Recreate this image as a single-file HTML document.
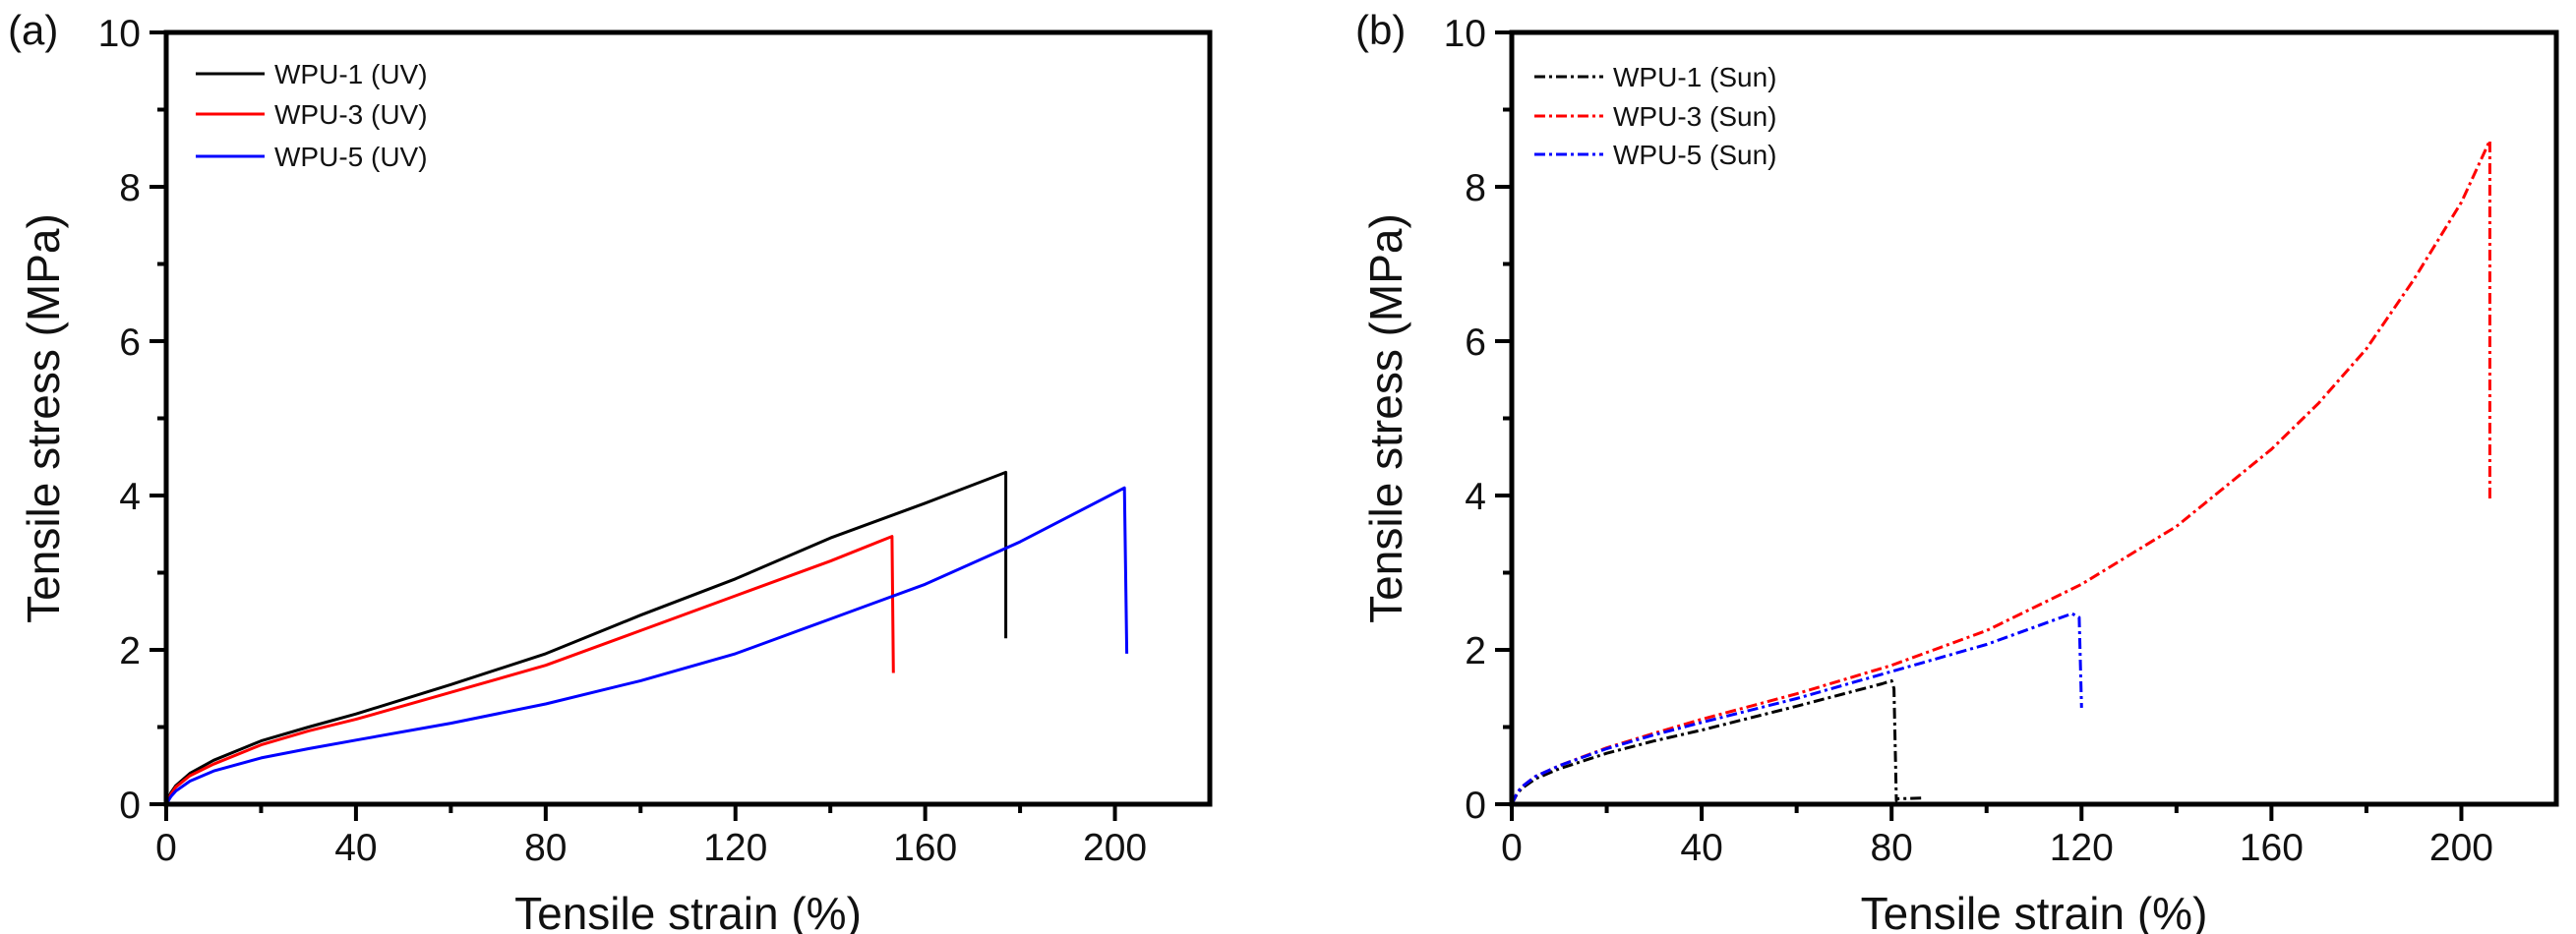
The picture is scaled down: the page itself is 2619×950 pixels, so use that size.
<!DOCTYPE html>
<html><head><meta charset="utf-8"><style>
html,body{margin:0;padding:0;background:#fff;}
svg{display:block;font-family:"Liberation Sans",Arial,sans-serif;}
</style></head><body>
<svg id="chart" width="2619" height="950" viewBox="0 0 2619 950" xmlns="http://www.w3.org/2000/svg"></svg>
<script>
// ---- data ----
const xTicks = [0,40,80,120,160,200];
const yTicks = [0,2,4,6,8,10];
const aLabels = ["WPU-1 (UV)","WPU-3 (UV)","WPU-5 (UV)"];
const bLabels = ["WPU-1 (Sun)","WPU-3 (Sun)","WPU-5 (Sun)"];
const colors = ["#000000","#ff0000","#0000ff"];
const a1x = [0,1,2,5,10,20,30,40,60,80,100,120,140,160,177,177];
const a1y = [0,0.15,0.24,0.4,0.57,0.82,1.0,1.17,1.55,1.95,2.45,2.92,3.45,3.9,4.3,2.15];
const a3x = [0,1,2,5,10,20,30,40,60,80,100,120,140,153,153.3];
const a3y = [0,0.13,0.22,0.37,0.52,0.77,0.95,1.1,1.45,1.8,2.25,2.7,3.15,3.47,1.7];
const a5x = [0,1,2,5,10,20,30,40,60,80,100,120,140,160,180,202,202.5];
const a5y = [0,0.1,0.17,0.3,0.43,0.6,0.72,0.83,1.05,1.3,1.6,1.95,2.4,2.85,3.4,4.1,1.95];
const b1x = [0,1,2,5,10,20,30,40,60,78,80,80.5,81,81,87];
const b1y = [0,0.12,0.2,0.33,0.46,0.66,0.82,0.96,1.27,1.56,1.6,1.5,0.05,0.07,0.08];
const b3x = [0,1,2,5,10,20,30,40,60,80,100,120,140,160,170,180,190,200,206,206];
const b3y = [0,0.13,0.22,0.36,0.5,0.73,0.92,1.1,1.43,1.8,2.25,2.85,3.6,4.6,5.2,5.9,6.8,7.8,8.6,3.95];
const b5x = [0,1,2,5,10,20,30,40,60,80,100,118,119.5,120];
const b5y = [0,0.13,0.22,0.36,0.5,0.72,0.9,1.06,1.37,1.72,2.07,2.47,2.42,1.25];

const NS="http://www.w3.org/2000/svg";
const svg=document.getElementById('chart');
function mk(tag,attrs,parent){const e=document.createElementNS(NS,tag);for(const k in attrs)e.setAttribute(k,attrs[k]);(parent||svg).appendChild(e);return e;}

function panel(p){
  const g=mk('g',{});
  
  
  const X0=p.left, X1=p.right, Y0=818, Y1=33;
  const sx=v=>X0+(v-0)/220*(X1-X0);
  const sy=v=>Y0-(v-0)/10*(Y0-Y1);
  for(let v=20;v<220;v+=40){const t=mk('line',{x1:sx(v),x2:sx(v),y1:Y0,y2:Y0+9,stroke:'#000','stroke-width':4},g);}
  for(let v=1;v<10;v+=2){const t=mk('line',{x1:X0-9,x2:X0,y1:sy(v),y2:sy(v),stroke:'#000','stroke-width':4},g);}
  xTicks.forEach(v=>{
    const t=mk('line',{x1:sx(v),x2:sx(v),y1:Y0,y2:Y0+17,stroke:'#000','stroke-width':4},g);
    
    const l=mk('text',{x:sx(v),y:875,'text-anchor':'middle','font-size':39,fill:'#111'},g);l.textContent=v;
    
  });
  yTicks.forEach(v=>{
    const t=mk('line',{x1:X0-17,x2:X0,y1:sy(v),y2:sy(v),stroke:'#000','stroke-width':4},g);
    
    const l=mk('text',{x:X0-26,y:sy(v)+14,'text-anchor':'end','font-size':39,fill:'#111'},g);l.textContent=v;
    
  });
  p.series.forEach((s,i)=>{
    const pts=s.x.map((v,j)=>sx(v).toFixed(1)+','+sy(s.y[j]).toFixed(1)).join(' ');
    const attrs={points:pts,fill:'none',stroke:colors[i],'stroke-width':3,'stroke-linejoin':'round'};
    if(p.dash)attrs['stroke-dasharray']='11 4 3 4';
    const pl=mk('polyline',attrs,g);
    
  });
  const fr=mk('rect',{x:X0,y:Y1,width:X1-X0,height:Y0-Y1,fill:'none',stroke:'#000','stroke-width':5},g);
  
  p.labels.forEach((lab,i)=>{
    const ly=p.legY[i];
    const ll=mk('line',{x1:X0+p.legDx,x2:X0+p.legDx+70,y1:ly,y2:ly,stroke:colors[i],'stroke-width':3},g);
    if(p.dash)ll.setAttribute('stroke-dasharray','11 4 3 4');
    
    const lt=mk('text',{x:X0+p.legDx+80,y:ly+10,'font-size':28,fill:'#111'},g);lt.textContent=lab;
    
  });
  const xt=mk('text',{x:(X0+X1)/2,y:945,'text-anchor':'middle','font-size':46,fill:'#111'},g);xt.textContent='Tensile strain (%)';
  
  const yt=mk('text',{x:0,y:0,'text-anchor':'middle','font-size':46,fill:'#111',transform:`translate(${p.ytx},${(Y0+Y1)/2}) rotate(-90)`},g);yt.textContent='Tensile stress (MPa)';
  
  const pl=mk('text',{x:p.plx,y:45,'font-size':42,fill:'#111'},g);pl.textContent=p.tag;
  
}
panel({name:'panel-a',left:169,right:1230,dash:false,labels:aLabels,legDx:30,legY:[75,116,159],ytx:60,plx:8,tag:'(a)',
  series:[{name:'wpu1-uv-line',x:a1x,y:a1y},{name:'wpu3-uv-line',x:a3x,y:a3y},{name:'wpu5-uv-line',x:a5x,y:a5y}]});
panel({name:'panel-b',left:1537,right:2599,dash:true,labels:bLabels,legDx:23,legY:[78,118,157],ytx:1425,plx:1378,tag:'(b)',
  series:[{name:'wpu1-sun-line',x:b1x,y:b1y},{name:'wpu3-sun-line',x:b3x,y:b3y},{name:'wpu5-sun-line',x:b5x,y:b5y}]});
</script>
</body></html>
